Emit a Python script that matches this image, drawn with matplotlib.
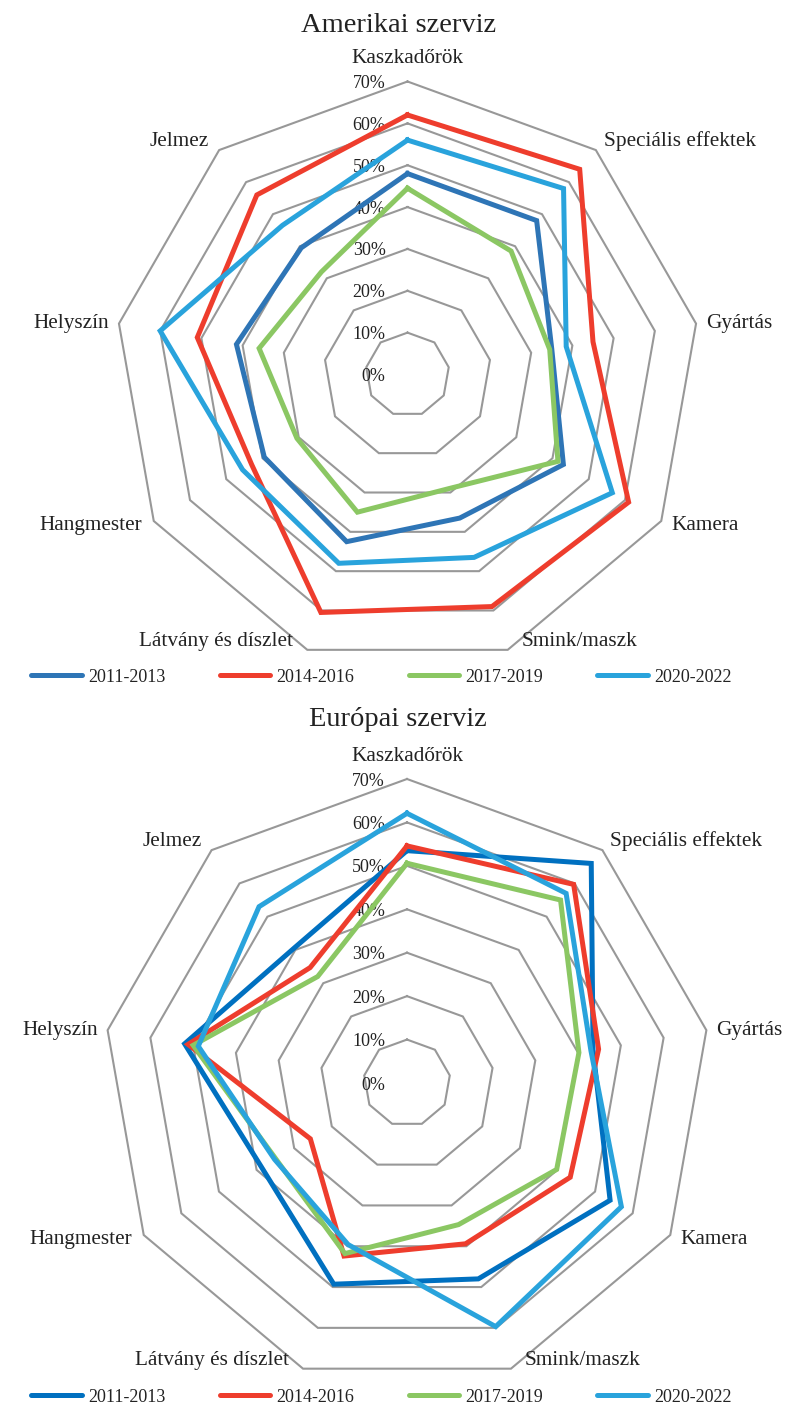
import numpy as np
import matplotlib.pyplot as plt
from matplotlib.lines import Line2D

# category axes, clockwise from the top
categories = ["Kaszkadőrök", "Speciális effektek", "Gyártás", "Kamera", "Smink/maszk",
              "Látvány és díszlet", "Hangmester", "Helyszín", "Jelmez"]
periods = ["2011-2013", "2014-2016", "2017-2019", "2020-2022"]
ticks = [0, 10, 20, 30, 40, 50, 60, 70]

# Amerikai szerviz (%)
amer_2011 = [48, 48, 35, 43, 36.5, 42.5, 39.5, 41.5, 39.5]
amer_2014 = [62, 64, 45, 61, 59, 60.5, 43, 51, 56]
amer_2017 = [44.5, 38.5, 34.5, 41.5, 29, 35, 30.5, 36, 32]
amer_2020 = [56, 58, 38.5, 56.5, 46.5, 48, 45.5, 60, 46.5]

# Európai szerviz (%)
euro_2011 = [53.5, 66, 43.5, 54, 48, 49.3, 38.7, 52, 40.5]
euro_2014 = [54.6, 59.7, 44.8, 43.4, 39.4, 42.4, 25.7, 51.2, 34.7]
euro_2017 = [50.6, 55, 40.2, 39.8, 34.7, 41.8, 34.9, 50, 32]
euro_2020 = [62.1, 57, 43, 57, 59.7, 39.6, 35.2, 48.8, 53]

colors_top = ["#2E75B6", "#EE3D2D", "#8BC763", "#29A3DC"]
colors_bot = ["#0070C0", "#EE3D2D", "#8BC763", "#29A3DC"]

GRID = "#989898"
TXT = "#222222"

# label offsets in pixels (dx, dy, ha) for each category
label_pos = [(0, 23, "center"), (8, 9, "left"), (10, 0, "left"), (10, -4, "left"),
             (14, 8, "left"), (-14, 8, "right"), (-12, -4, "right"), (-10, 0, "right"),
             (-10, 9, "right")]

plt.rcParams["font.family"] = ["Liberation Serif", "DejaVu Serif"]

fig = plt.figure(figsize=(7.9, 14.05), dpi=100)


def radar(rect, title, title_y, series, colors, legend_y):
    ax = fig.add_axes(rect, projection="polar")
    ax.set_theta_zero_location("N")
    ax.set_theta_direction(-1)
    ax.set_ylim(0, 70)
    ax.axis("off")

    n = len(categories)
    ang = np.linspace(0, 2 * np.pi, n, endpoint=False)
    ang_c = np.append(ang, ang[0])

    for t in ticks[1:]:
        ax.plot(ang_c, [t] * (n + 1), color=GRID, lw=1.5, clip_on=False,
                zorder=1, solid_joinstyle="miter")
    for t in ticks:
        ax.annotate(f"{t}%", xy=(0, t), xytext=(-22, -2), textcoords="offset pixels",
                    ha="right", va="center", fontsize=13, color=TXT)

    for vals, c in zip(series, colors):
        v = list(vals) + [vals[0]]
        ax.plot(ang_c, v, color=c, lw=3.6, clip_on=False, zorder=3,
                solid_joinstyle="miter")

    for a, name, (dx, dy, ha) in zip(ang, categories, label_pos):
        ax.annotate(name, xy=(a, 70), xytext=(dx, dy), textcoords="offset pixels",
                    ha=ha, va="center", fontsize=15.3, color=TXT)

    fig.text(0.504, title_y, title, ha="center", va="center", fontsize=20.5, color=TXT)

    handles = [Line2D([], [], color=c, lw=3.6, solid_capstyle="round") for c in colors]
    fig.legend(handles, periods, loc="center", bbox_to_anchor=(0.483, legend_y),
               ncol=4, frameon=False, fontsize=13, handlelength=2.8,
               handletextpad=0.35, columnspacing=3.0, labelcolor=TXT)
    return ax


radar([0.14494, 0.52491, 0.74177, 0.41708], "Amerikai szerviz", 1 - 25 / 1405,
      [amer_2011, amer_2014, amer_2017, amer_2020], colors_top, 1 - 677 / 1405)
radar([0.13038, 0.01281, 0.76962, 0.43274], "Európai szerviz", 1 - 720 / 1405,
      [euro_2011, euro_2014, euro_2017, euro_2020], colors_bot, 1 - 1397 / 1405)

fig.savefig("out.png", dpi=100)
